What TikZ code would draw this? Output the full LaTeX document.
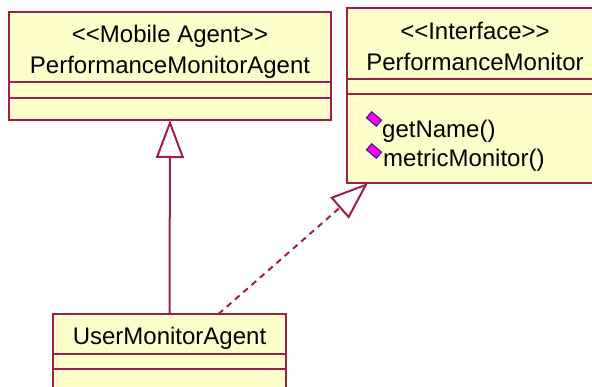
\documentclass[tikz,border=0pt]{standalone}
\usepackage{fontspec}
\setmainfont{Liberation Sans}[Ligatures=TeXOff]
\usetikzlibrary{positioning, arrows.meta}
\definecolor{umlline}{HTML}{A01E4A}
\definecolor{umlfill}{HTML}{FFFFCC}
\definecolor{opfill}{HTML}{FF00FF}
\definecolor{opedge}{HTML}{22226E}
\def\umlfont{\fontsize{24}{31}\selectfont}

\tikzset{
  part/.style={draw=umlline, fill=umlfill, line width=2pt, inner sep=0pt, outer sep=0pt},
  % #1 lifts the last text line inside the compartment
  namepart/.style={part, align=center, font=\umlfont, text height=#1, text depth=2pt},
  opname/.style={anchor=base west, inner sep=0pt, font=\umlfont},
  opmark/.style={draw=opedge, fill=opfill, line width=1pt, minimum width=13pt, minimum height=8pt, inner sep=0pt, rotate=-40},
  generalization/.style={draw=umlline, line width=2pt, -{Triangle[open, length=38pt, width=28pt]}},
  realization/.style={generalization, dash pattern=on 6pt off 5pt}
}

\begin{document}
\begin{tikzpicture}[x=1pt, y=-1pt]
  \useasboundingbox (0,0) rectangle (592,387);
  \clip (0,0) rectangle (592,387);

  % mobile agent class
  \node[namepart=56pt, anchor=north west, minimum width=322pt, minimum height=70pt] (pma) at (9,12)
    {<<Mobile Agent>>\\PerformanceMonitorAgent};
  \node[part, below=0pt of pma, minimum width=322pt, minimum height=16pt] (pmaattr) {};
  \node[part, below=0pt of pmaattr, minimum width=322pt, minimum height=22pt] (pmaops) {};

  % interface, runs off the right edge
  \node[namepart=56pt, anchor=north west, minimum width=256pt, minimum height=71pt] (pm) at (347,8)
    {<<Interface>>\\PerformanceMonitor};
  \node[part, below=0pt of pm, minimum width=256pt, minimum height=15pt] (pmattr) {};
  \node[part, below=0pt of pmattr, minimum width=256pt, minimum height=89pt] (pmops) {};

  \node[opmark] (getnamemark) at (374,119) {};
  \node[opname] (getname) at (382,138) {getName()};
  \node[opmark] (metricmark) at (374,151) {};
  \node[opname] (metric) at (383,167) {metricMonitor()};

  % subclass
  \node[namepart=24pt, anchor=north west, minimum width=233pt, minimum height=40pt] (uma) at (53,314)
    {UserMonitorAgent};
  \node[part, below=0pt of uma, minimum width=233pt, minimum height=15pt] (umaattr) {};
  \node[part, below=0pt of umaattr, minimum width=233pt, minimum height=30pt] (umaops) {};

  \draw[generalization] (uma.north) -- (pmaops.south);
  \draw[realization] ([xshift=49pt]uma.north) -- ([xshift=21pt]pmops.south west);
\end{tikzpicture}
\end{document}
